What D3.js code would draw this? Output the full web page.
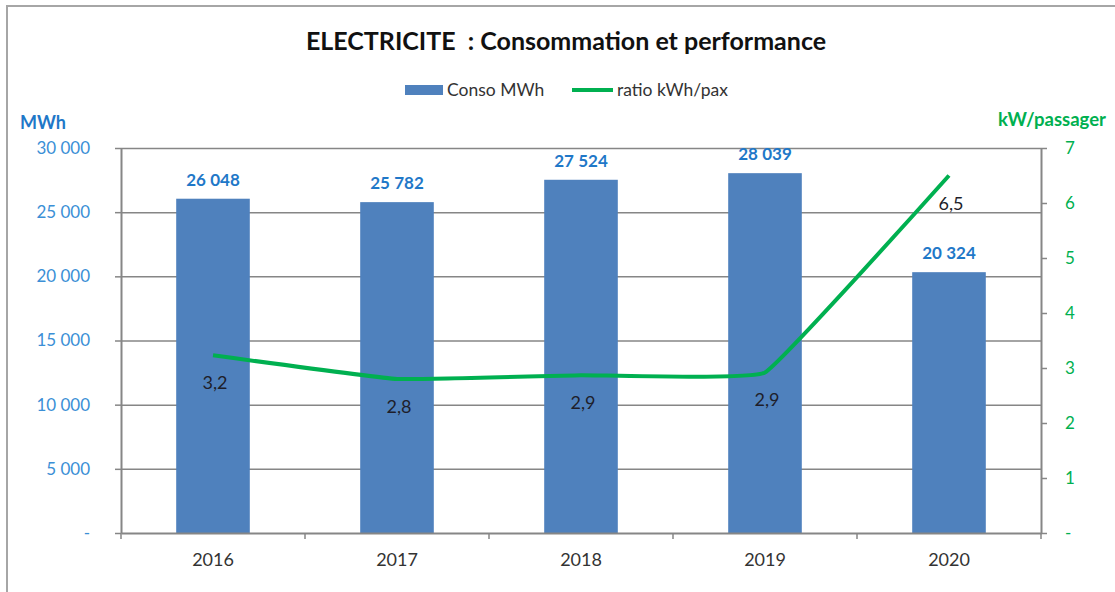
<!DOCTYPE html>
<html>
<head>
<meta charset="utf-8">
<script src="https://cdn.jsdelivr.net/npm/d3@7"></script>
<style>
  body { margin: 0; background: #fff; }
  text { font-family: Lato, "Open Sans", sans-serif; }
</style>
</head>
<body>
<div id="wrapper"></div>
<script>
// data
const years = ["2016", "2017", "2018", "2019", "2020"]
const conso = [26048, 25782, 27524, 28039, 20324]
const ratio = [3.23, 2.8, 2.87, 2.92, 6.5]
const leftTicks = [0, 5000, 10000, 15000, 20000, 25000, 30000]
const rightTicks = [0, 1, 2, 3, 4, 5, 6, 7]

function drawChart() {

  // dimensions
  const dimensions = {
    width: 1115,
    height: 592,
    left: 121,
    right: 1041,
    top: 148,
    bottom: 533,
  }

  const blue = "#4f81bd"
  const labelBlue = "#1f78c8"
  const tickBlue = "#3b8fd6"
  const green = "#00b050"
  const grey = "#868686"

  const fr = d3.formatLocale({ decimal: ",", thousands: "\u202f", grouping: [3], currency: ["", " €"] })
  const fmtInt = fr.format(",d")
  const fmtRatio = fr.format(".1f")

  const svg = d3.select("#wrapper")
    .append("svg")
      .attr("width", dimensions.width)
      .attr("height", dimensions.height)

  // outer frame
  svg.append("rect")
      .attr("x", 7)
      .attr("y", 6)
      .attr("width", 1140)
      .attr("height", 620)
      .attr("fill", "none")
      .attr("stroke", "#a6a6a6")
      .attr("stroke-width", 2)

  // scales
  const xScale = d3.scaleBand()
    .domain(years)
    .range([dimensions.left, dimensions.right])
    .padding(0)

  const yScale = d3.scaleLinear()
    .domain([0, 30000])
    .range([dimensions.bottom, dimensions.top])

  const yRight = d3.scaleLinear()
    .domain([0, 7])
    .range([dimensions.bottom, dimensions.top])

  const barWidth = xScale.bandwidth() * 0.4
  const cx = d => xScale(d) + xScale.bandwidth() / 2

  // gridlines
  svg.append("g")
      .attr("transform", `translate(${dimensions.left},0)`)
      .call(d3.axisLeft(yScale).tickValues(leftTicks.slice(1))
        .tickSize(-(dimensions.right - dimensions.left)).tickFormat(""))
      .call(g => g.select(".domain").remove())
      .call(g => g.selectAll("line").attr("stroke", grey).attr("stroke-width", 1.5))

  // bars
  svg.append("g")
    .selectAll("rect")
    .data(years)
    .join("rect")
      .attr("x", d => cx(d) - barWidth / 2)
      .attr("y", (d, i) => yScale(conso[i]))
      .attr("width", barWidth)
      .attr("height", (d, i) => yScale(0) - yScale(conso[i]))
      .attr("fill", blue)

  // left axis
  const yAxis = svg.append("g")
      .attr("transform", `translate(${dimensions.left},0)`)
      .call(d3.axisLeft(yScale).tickValues(leftTicks).tickSize(6).tickSizeOuter(0).tickPadding(25)
        .tickFormat(d => d === 0 ? "-" : fmtInt(d)))
  yAxis.select(".domain").attr("stroke", grey).attr("stroke-width", 2)
  yAxis.selectAll("line").attr("stroke", grey).attr("stroke-width", 1.5)
  yAxis.selectAll("text")
      .attr("fill", tickBlue)
      .style("font-size", "17px")

  // right axis
  const yAxisRight = svg.append("g")
      .attr("transform", `translate(${dimensions.right},0)`)
      .call(d3.axisRight(yRight).tickValues(rightTicks).tickSize(6).tickSizeOuter(0).tickPadding(18)
        .tickFormat(d => d === 0 ? "-" : d))
  yAxisRight.select(".domain").attr("stroke", grey).attr("stroke-width", 2)
  yAxisRight.selectAll("line").attr("stroke", grey).attr("stroke-width", 1.5)
  yAxisRight.selectAll("text")
      .attr("fill", green)
      .style("font-size", "17px")

  // bottom axis
  const xAxis = svg.append("g")
      .attr("transform", `translate(0,${dimensions.bottom})`)
      .call(d3.axisBottom(xScale).tickSize(0).tickPadding(20))
  xAxis.select(".domain").attr("stroke", grey).attr("stroke-width", 2)
  xAxis.selectAll("text")
      .attr("fill", "#333")
      .style("font-size", "18px")
  xAxis.selectAll(".sep")
    .data(years.map(d => xScale(d)).concat([dimensions.right]))
    .join("line")
      .attr("class", "sep")
      .attr("x1", d => d)
      .attr("x2", d => d)
      .attr("y1", 0)
      .attr("y2", 6)
      .attr("stroke", grey)
      .attr("stroke-width", 1.5)

  // bar labels
  svg.append("g")
    .selectAll("text")
    .data(years)
    .join("text")
      .attr("x", d => cx(d))
      .attr("y", (d, i) => yScale(conso[i]) - 13)
      .attr("text-anchor", "middle")
      .attr("fill", labelBlue)
      .style("font-size", "17px")
      .style("font-weight", "bold")
      .text((d, i) => fmtInt(conso[i]))

  // ratio line
  const lineGenerator = d3.line()
    .x(d => cx(d))
    .y((d, i) => yRight(ratio[i]))
    .curve(d3.curveCardinal.tension(0.75))

  svg.append("path")
      .attr("d", lineGenerator(years))
      .attr("fill", "none")
      .attr("stroke", green)
      .attr("stroke-width", 4)

  svg.append("g")
    .selectAll("text")
    .data(years)
    .join("text")
      .attr("x", d => cx(d) + 2)
      .attr("y", (d, i) => yRight(ratio[i]) + 34)
      .attr("text-anchor", "middle")
      .attr("fill", "#1e1e2a")
      .style("font-size", "18px")
      .text((d, i) => fmtRatio(ratio[i]))

  // title
  svg.append("text")
      .attr("x", 566)
      .attr("y", 50)
      .attr("text-anchor", "middle")
      .attr("fill", "#111")
      .style("font-size", "25px")
      .style("font-weight", "bold")
      .text("ELECTRICITE\u00a0 : Consommation et performance")

  // legend
  const legend = svg.append("g")
  legend.append("rect")
      .attr("x", 405)
      .attr("y", 85)
      .attr("width", 38)
      .attr("height", 10)
      .attr("fill", blue)
  legend.append("text")
      .attr("x", 447)
      .attr("y", 96)
      .attr("fill", "#333")
      .style("font-size", "17.5px")
      .text("Conso MWh")
  legend.append("line")
      .attr("x1", 572)
      .attr("x2", 613)
      .attr("y1", 90)
      .attr("y2", 90)
      .attr("stroke", green)
      .attr("stroke-width", 4)
  legend.append("text")
      .attr("x", 617)
      .attr("y", 96)
      .attr("fill", "#333")
      .style("font-size", "17.5px")
      .text("ratio kWh/pax")

  // axis titles
  svg.append("text")
      .attr("x", 20)
      .attr("y", 129)
      .attr("fill", labelBlue)
      .style("font-size", "18px")
      .style("font-weight", "bold")
      .text("MWh")

  svg.append("text")
      .attr("x", 998)
      .attr("y", 126)
      .attr("fill", green)
      .style("font-size", "18.5px")
      .style("font-weight", "bold")
      .text("kW/passager")
}
drawChart()
</script>
</body>
</html>
